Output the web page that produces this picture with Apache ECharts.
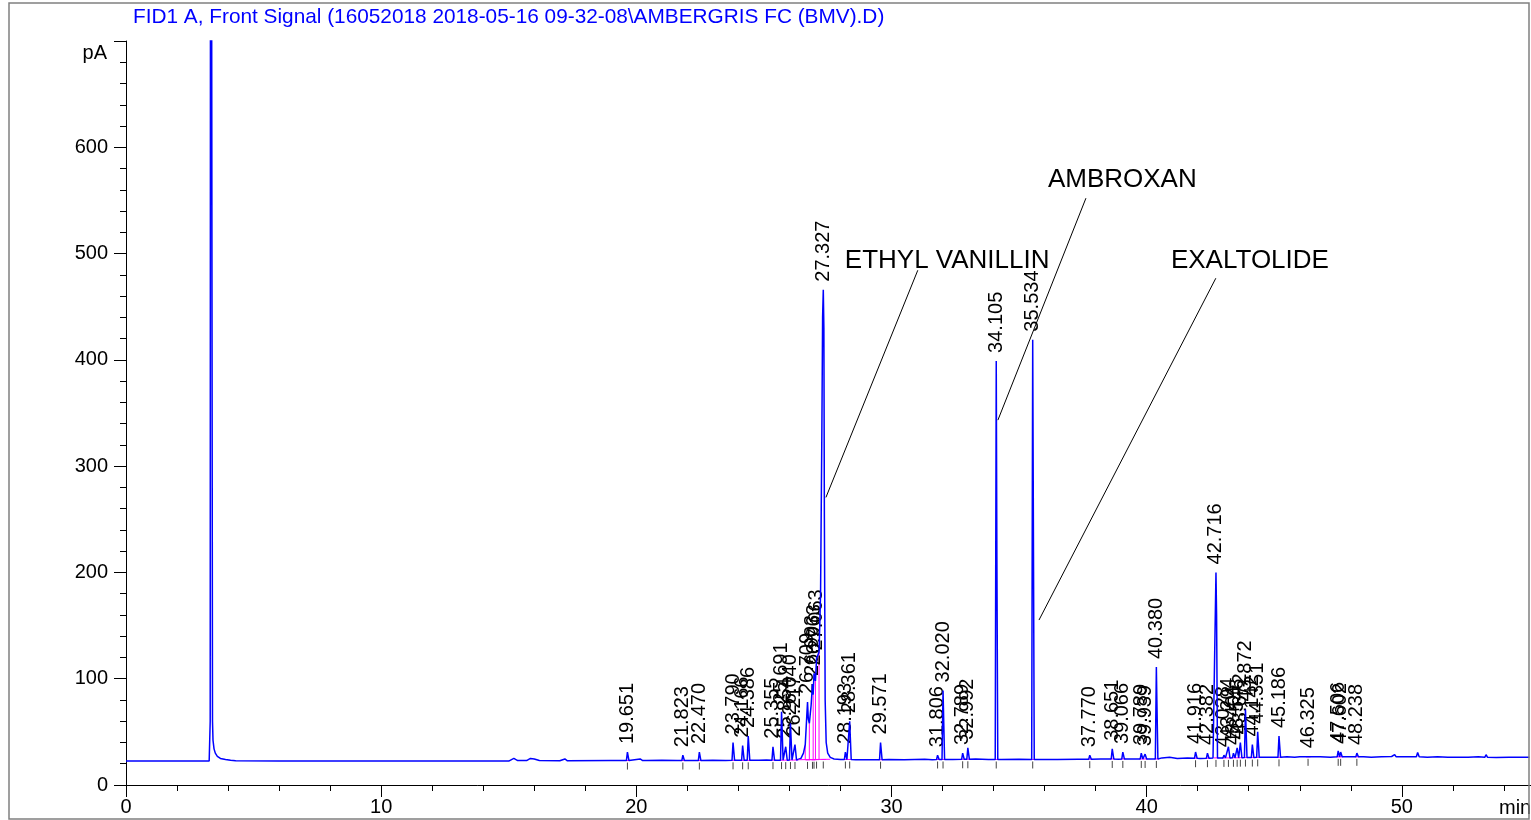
<!DOCTYPE html>
<html>
<head>
<meta charset="utf-8">
<title>FID1 A chromatogram</title>
<script src="https://cdn.jsdelivr.net/npm/echarts@6/dist/echarts.min.js"></script>
<style>
  html, body { margin: 0; padding: 0; background: #fff; }
  #chart { width: 1531px; height: 820px; }
</style>
</head>
<body>
<div id="chart"></div>
<script>
// ---- data (time in min, signal in pA) ----
var peakTimes = [19.651, 21.823, 22.470, 23.790, 24.166, 24.386, 25.355, 25.691, 25.854, 26.040,
                 26.217, 26.709, 26.903, 26.963, 27.063, 27.327, 28.193, 28.361, 29.571, 31.806,
                 32.020, 32.789, 32.992, 34.105, 35.534, 37.770, 38.651, 39.066, 39.789, 39.939,
                 40.380, 41.916, 42.382, 42.716, 43.028, 43.204, 43.401, 43.546, 43.672, 43.872,
                 44.142, 44.351, 45.186, 46.325, 47.506, 47.602, 48.238];
var peakHeights = [31, 28, 31, 40, 37, 46, 36, 69, 36, 58,
                   38, 78, 95, 105, 119, 466, 31, 60, 40, 28,
                   89, 30, 35, 399, 419, 28, 34, 31, 30, 29,
                   111, 31, 30, 200, 28, 36, 30, 35, 40, 71,
                   38, 50, 46, 27, 32, 31, 30];
var peakBases = [23, 23, 23, 23.2, 23.2, 23.2, 23.4, 23.4, 23.4, 23.5,
                 23.5, 23.6, 23.7, 23.8, 23.9, 24, 24, 24, 23.8, 24,
                 24, 24.2, 24.2, 24, 24, 24.3, 24.5, 24.5, 24.5, 24.5,
                 24.5, 25.2, 25.2, 25.5, 25.5, 25.5, 25.6, 25.6, 25.7, 25.8,
                 25.8, 26, 26, 26.5, 26.5, 26.5, 26.5];

// small unlabelled bumps near the end
var bumpTimes = [49.72, 50.62, 52.25, 53.30];
var bumpHeights = [28.5, 30.5, 27.5, 28.5];
var bumpBases = [26.5, 26.5, 26, 26];

// baseline between peaks
var baseTimes = [0, 4.3, 6, 10, 15.0, 15.2, 15.35, 15.7, 15.85, 16.0, 16.2, 17.0, 17.2, 17.3,
                 19.0, 19.5, 20.15, 20.25, 20.4, 21.0, 21.6, 22.2, 23.0, 23.5, 24.8, 25.1,
                 27.8, 28.0, 28.6, 29.2, 29.9, 30.5, 31.3, 31.6, 32.4, 33.3, 33.8, 34.3, 35.0,
                 35.8, 36.5, 37.3, 38.2, 38.9, 39.4, 40.1, 40.6, 40.9, 41.2, 41.6, 42.1, 42.6,
                 44.6, 45.5, 45.8, 46.0, 46.8, 47.2, 47.9, 48.5, 48.8, 49.2, 49.6, 50.2, 51.0,
                 51.4, 51.8, 52.6, 53.0, 53.7, 54.2, 55];
var baseValues = [22.5, 22.8, 22.5, 22.5, 22.5, 25, 23, 23, 25, 24.5, 23, 22.8, 24.5, 22.8,
                  23, 23, 24.5, 23, 23, 23.2, 23, 23, 23.3, 23, 23.3, 23.5,
                  24, 24, 23.8, 23.8, 24, 23.8, 24.2, 23.8, 24, 24.5, 24, 24, 24.2,
                  24, 24, 24.2, 24.5, 24.3, 24.5, 24.5, 25.5, 26, 25, 25.5, 25, 25.5,
                  26, 26.5, 26, 26.5, 26.5, 26, 26.5, 26.5, 26, 26.5, 26.8, 26.5, 26,
                  26.5, 26, 26, 26.5, 25.8, 26, 26];

// solvent peak (off scale) and its tail
var solventTrace = [[3.26, 22.6], [3.30, 60], [3.32, 1500], [3.36, 1500], [3.39, 60], [3.41, 42],
                    [3.45, 34], [3.50, 30], [3.58, 27], [3.70, 25], [3.90, 24], [4.10, 23.2]];

// fronting cluster in front of 27.327
var clusterTrace = [[26.30, 23.5], [26.45, 25], [26.55, 30], [26.62, 38], [26.68, 65], [26.709, 78],
                    [26.74, 62], [26.78, 58], [26.85, 75], [26.903, 95], [26.93, 85], [26.963, 105],
                    [27.02, 98], [27.063, 119], [27.10, 118], [27.16, 125], [27.22, 180], [27.27, 330],
                    [27.30, 440], [27.327, 466], [27.35, 430], [27.37, 250], [27.40, 80], [27.44, 40],
                    [27.50, 30], [27.60, 26], [27.75, 24.5]];

// shoulders on the tail side of some peaks
var shoulderPoints = [[34.13, 214], [40.40, 80], [42.74, 160]];

// integration drop lines in the cluster
var dropTimes = [26.62, 26.78, 26.93, 27.02, 27.16];
var dropTops = [38, 58, 85, 98, 125];
var clusterBaseline = [[26.35, 23.8], [27.6, 24.2]];

// annotations
var annotNames = ['ETHYL VANILLIN', 'AMBROXAN', 'EXALTOLIDE'];

// ---- layout (data coordinates) ----
var annotTextAt = [[28.17, 492.8], [36.13, 569.0], [40.95, 492.8]];
var annotLineFrom = [[31.03, 484.3], [37.62, 552.1], [42.71, 476.8]];
var annotLineTo = [[27.43, 270.6], [34.17, 343.3], [35.78, 155.2]];

var FONT = '"Liberation Sans", Arial, Helvetica, sans-serif';

function buildTrace() {
    var pts = [];
    var cStart = clusterTrace[0][0], cEnd = clusterTrace[clusterTrace.length - 1][0];
    baseTimes.forEach(function (t, i) { pts.push([t, baseValues[i]]); });
    solventTrace.forEach(function (p) { pts.push(p); });
    clusterTrace.forEach(function (p) { pts.push(p); });
    shoulderPoints.forEach(function (p) { pts.push(p); });
    peakTimes.forEach(function (t, i) {
        if (t > cStart && t < cEnd) return;
        pts.push([t - 0.04, peakBases[i]], [t, peakHeights[i]], [t + 0.06, peakBases[i]]);
    });
    bumpTimes.forEach(function (t, i) {
        pts.push([t - 0.05, bumpBases[i]], [t, bumpHeights[i]], [t + 0.06, bumpBases[i]]);
    });
    pts.sort(function (a, b) { return a[0] - b[0]; });
    return pts;
}

var peakData = peakTimes.map(function (t, i) { return [t, peakHeights[i], peakBases[i]]; });
var dropData = dropTimes.map(function (t, i) { return [t, dropTops[i], clusterBaseline[0][1]]; });
var annotData = annotNames.map(function (n, i) { return [annotTextAt[i][0], annotTextAt[i][1], i]; });

var chart = echarts.init(document.getElementById('chart'), null, { renderer: 'canvas' });

var option = {
    animation: false,
    backgroundColor: '#fff',
    // axis runs to 60 min so minor ticks fall on even minutes; the part past 55 is off the page
    grid: { left: 126, top: 41, width: 1531, bottom: 35, containLabel: false, outerBoundsMode: 'none' },
    xAxis: {
        type: 'value', min: 0, max: 60, interval: 10,
        axisLine: { show: true, onZero: false, lineStyle: { color: '#000', width: 1 } },
        axisTick: { show: true, length: 12, lineStyle: { color: '#000', width: 1 } },
        minorTick: { show: true, splitNumber: 5, length: 6, lineStyle: { color: '#000', width: 1 } },
        splitLine: { show: false },
        axisLabel: {
            color: '#000', fontSize: 20, fontFamily: FONT, margin: 12,
            formatter: function (v) { return v > 50 ? '' : String(v); }
        }
    },
    yAxis: {
        type: 'value', min: 0, max: 700, interval: 100,
        axisLine: { show: true, onZero: false, lineStyle: { color: '#000', width: 1 } },
        axisTick: { show: true, length: 12, lineStyle: { color: '#000', width: 1 } },
        minorTick: { show: true, splitNumber: 5, length: 6, lineStyle: { color: '#000', width: 1 } },
        splitLine: { show: false },
        axisLabel: {
            color: '#000', fontSize: 20, fontFamily: FONT, margin: 18,
            formatter: function (v) { return v >= 700 ? '' : String(v); }
        }
    },
    graphic: [
        { type: 'rect', shape: { x: 9, y: 3, width: 1520, height: 816 },
          style: { fill: 'none', stroke: '#808080', lineWidth: 1.5 }, z: 10 },
        { type: 'text', x: 133, y: 17,
          style: { text: 'FID1 A, Front Signal (16052018 2018-05-16 09-32-08\\AMBERGRIS FC (BMV).D)',
                   fill: '#0000ff', fontSize: 20.8, fontFamily: FONT, verticalAlign: 'middle' } },
        { type: 'text', x: 107, y: 53,
          style: { text: 'pA', fill: '#000', fontSize: 20, fontFamily: FONT, align: 'right', verticalAlign: 'middle' } },
        { type: 'text', x: 1499, y: 808,
          style: { text: 'min', fill: '#000', fontSize: 20, fontFamily: FONT, align: 'left', verticalAlign: 'middle' } }
    ],
    series: [
        {
            name: 'signal', type: 'line', data: buildTrace(),
            showSymbol: false, symbol: 'none', clip: true,
            lineStyle: { color: '#0000ff', width: 1.5 }
        },
        {
            name: 'cluster baseline', type: 'line', data: clusterBaseline,
            showSymbol: false, symbol: 'none',
            lineStyle: { color: '#ff00ff', width: 1 }
        },
        {
            name: 'drops', type: 'custom', data: dropData, encode: { x: 0, y: 1 }, silent: true,
            renderItem: function (params, api) {
                var a = api.coord([api.value(0), api.value(2)]);
                var b = api.coord([api.value(0), api.value(1)]);
                return { type: 'line', shape: { x1: a[0], y1: a[1], x2: b[0], y2: b[1] },
                         style: { stroke: '#ff00ff', lineWidth: 1 } };
            }
        },
        {
            name: 'peaks', type: 'custom', data: peakData, encode: { x: 0, y: 1 }, silent: true,
            renderItem: function (params, api) {
                var t = api.value(0), h = api.value(1), b = api.value(2);
                var top = api.coord([t, h]);
                var base = api.coord([t, b]);
                var l = api.coord([t - 0.08, b]);
                var r = api.coord([t + 0.1, b]);
                return {
                    type: 'group',
                    children: [
                        { type: 'line', shape: { x1: l[0], y1: l[1], x2: r[0], y2: r[1] },
                          style: { stroke: '#ff00ff', lineWidth: 1 } },
                        { type: 'line', shape: { x1: base[0], y1: base[1] + 2, x2: base[0], y2: base[1] + 9 },
                          style: { stroke: '#444', lineWidth: 1 } },
                        { type: 'text', x: top[0], y: top[1] - 8, rotation: Math.PI / 2,
                          style: { text: t.toFixed(3), fill: '#000', fontSize: 20, fontFamily: FONT,
                                   align: 'left', verticalAlign: 'middle' } }
                    ]
                };
            }
        },
        {
            name: 'annotations', type: 'custom', data: annotData, encode: { x: 0, y: 1 }, silent: true,
            renderItem: function (params, api) {
                var i = api.value(2);
                var p = api.coord([api.value(0), api.value(1)]);
                var a = api.coord(annotLineFrom[i]);
                var b = api.coord(annotLineTo[i]);
                return {
                    type: 'group',
                    children: [
                        { type: 'line', shape: { x1: a[0], y1: a[1], x2: b[0], y2: b[1] },
                          style: { stroke: '#000', lineWidth: 1 } },
                        { type: 'text', x: p[0], y: p[1],
                          style: { text: annotNames[i], fill: '#000', fontSize: 26, fontFamily: FONT,
                                   align: 'left', verticalAlign: 'middle' } }
                    ]
                };
            }
        }
    ]
};

chart.setOption(option);
</script>
</body>
</html>
